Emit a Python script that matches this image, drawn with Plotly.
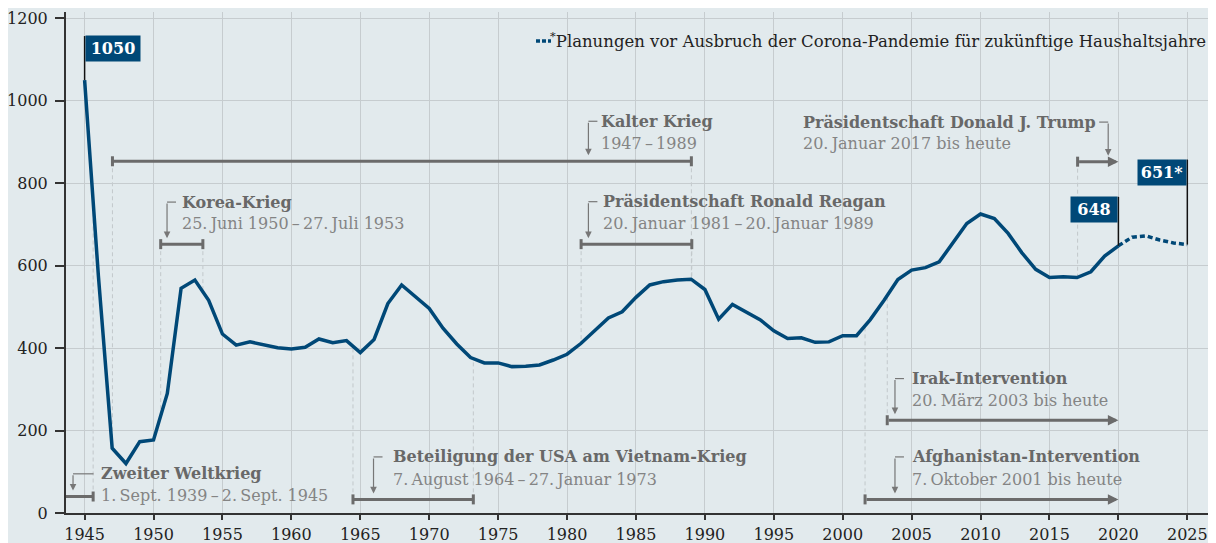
import numpy as np
import plotly.graph_objects as go

# ---------------- data ----------------
years = list(range(1945, 2021))
spending = [1050, 575, 157, 120, 173, 177, 290, 545, 565, 516,
            434, 407, 415, 409, 401, 398, 402, 422, 413, 418,
            389, 421, 508, 553, 524, 496, 448, 410, 377, 364,
            364, 355, 356, 359, 371, 385, 411, 441, 473, 488,
            523, 553, 561, 565, 567, 542, 470, 506, 488, 469,
            442, 423, 425, 414, 415, 430, 430, 469, 516, 566,
            589, 595, 609, 655, 702, 725, 714, 678, 631, 591,
            571, 573, 571, 585, 623, 648]
plan_years = [2020, 2021, 2022, 2023, 2024, 2025]
plan_spending = [648, 669, 672, 662, 655, 651]

x_ticks = list(range(1945, 2026, 5))
y_ticks = list(range(0, 1201, 200))

event_titles = ["Zweiter Weltkrieg", "Korea-Krieg", "Kalter Krieg",
                "Präsidentschaft Ronald Reagan",
                "Beteiligung der USA am Vietnam-Krieg",
                "Präsidentschaft Donald J. Trump",
                "Irak-Intervention", "Afghanistan-Intervention"]
event_dates = ["1.\u2009Sept. 1939\u2009–\u20092.\u2009Sept. 1945",
               "25.\u2009Juni 1950\u2009–\u200927.\u2009Juli 1953",
               "1947\u2009–\u20091989",
               "20.\u2009Januar 1981\u2009–\u200920.\u2009Januar 1989",
               "7.\u2009August 1964\u2009–\u200927.\u2009Januar 1973",
               "20.\u2009Januar 2017 bis heute",
               "20.\u2009März 2003 bis heute",
               "7.\u2009Oktober 2001 bis heute"]
event_start = [1939.67, 1950.52, 1947.02, 1981.02, 1964.47, 2017.04, 2003.23, 2001.62]
event_end = [1945.62, 1953.58, 1989.02, 1989.05, 1973.2, 2020.0, 2020.0, 2020.0]
event_ongoing = [False, False, False, False, False, True, True, True]

value_labels = ["1050", "648", "651*"]
value_label_years = [1945, 2020, 2025]
value_label_values = [1050, 648, 651]

# ---------------- layout / style ----------------
OFF = 8                      # page body margin of the html page
W, H = 1216 - OFF, 543 - OFF
ML, MR, MT, MB = 66 - OFF, 8, 12 - OFF, 30
PLOT_L_SCREEN = ML + OFF
PLOT_B_SCREEN = H - MB + OFF
XR = [1943.65, 2026.5]
YR = [0, 1215]
FONT = "DejaVu Serif"
BLUE = "#004877"
BG = "#e2eaed"
GRID = "#c6cccf"
SPAN = "#6b6b6b"
TITLE_C = "#686868"
DATE_C = "#848484"
DASH_C = "#c2c8cb"

PW, PH = W - ML - MR, H - MT - MB
ppu_y = PH / (YR[1] - YR[0])   # pixels per unit
ppu_x = PW / (XR[1] - XR[0])   # pixels per year

# per-event label layout: [title_x, title_y, date_y, corner_x, level]
ev_layout = [
    [1946.02, 95, 42, 1944.16, 40],
    [1951.95, 754, 702, 1950.98, 652],
    [1982.3, 950, 896, 1981.55, 853],
    [1982.45, 755, 702, 1981.55, 652],
    [1967.2, 136, 82, 1965.96, 33],
    [1997.0, 948, 896, 2019.26, 852],
    [2004.85, 326, 273, 2003.79, 225],
    [2004.85, 136, 82, 2003.79, 33],
]

all_years = years + plan_years[1:]
all_vals = spending + plan_spending[1:]

fig = go.Figure()
fig.add_trace(go.Scatter(x=years, y=spending, mode="lines",
                         line=dict(color=BLUE, width=3.5), hoverinfo="skip",
                         showlegend=False))
fig.add_trace(go.Scatter(x=plan_years, y=plan_spending, mode="lines",
                         line=dict(color=BLUE, width=3.5, dash="5px,3px"),
                         hoverinfo="skip", showlegend=False))

shapes = []
annotations = []
tick_h = 5 / ppu_y

for i, t in enumerate(event_titles):
    tx, ty, dy, cx, lvl = ev_layout[i]
    s, e = event_start[i], event_end[i]
    s_draw = max(s, XR[0])
    # dashed guide lines between span and curve
    for d in ([s, e] if not event_ongoing[i] else [s]):
        if d < XR[0]:
            continue
        cv = float(np.interp(d, all_years, all_vals))
        shapes.append(dict(type="line", xref="x", yref="y", x0=d, x1=d,
                           y0=lvl, y1=cv, layer="below",
                           line=dict(color=DASH_C, width=1, dash="4px,3px")))
    # span
    if event_ongoing[i]:
        annotations.append(dict(x=e, y=lvl, ax=s_draw, ay=lvl, axref="x", ayref="y",
                                xref="x", yref="y", text="", showarrow=True,
                                arrowhead=2, arrowsize=0.7, arrowwidth=3,
                                arrowcolor=SPAN, standoff=0, startstandoff=0))
    else:
        shapes.append(dict(type="line", xref="x", yref="y", x0=s_draw, x1=e,
                           y0=lvl, y1=lvl, line=dict(color=SPAN, width=3)))
        shapes.append(dict(type="line", xref="x", yref="y", x0=e, x1=e,
                           y0=lvl - tick_h, y1=lvl + tick_h,
                           line=dict(color=SPAN, width=3)))
    if s >= XR[0]:
        shapes.append(dict(type="line", xref="x", yref="y", x0=s, x1=s,
                           y0=lvl - tick_h, y1=lvl + tick_h,
                           line=dict(color=SPAN, width=3)))
    # elbow connector
    tip_y = lvl + 6 / ppu_y
    if i == 0:
        hx = cx + 20.5 / ppu_x
    elif i == 5:
        hx = cx - 9 / ppu_x
    else:
        hx = cx + 9 / ppu_x
    shapes.append(dict(type="line", xref="x", yref="y", x0=cx, x1=hx,
                       y0=ty, y1=ty, line=dict(color="#777777", width=1.2)))
    annotations.append(dict(x=cx, y=tip_y, ax=cx, ay=ty, axref="x", ayref="y",
                            xref="x", yref="y", text="", showarrow=True,
                            arrowhead=2, arrowsize=1.1, arrowwidth=1.2,
                            arrowcolor="#777777", standoff=0, startstandoff=0))
    # texts
    annotations.append(dict(x=tx, y=ty, xref="x", yref="y", text="<b>%s</b>" % t,
                            showarrow=False, xanchor="left", yanchor="middle",
                            font=dict(family=FONT, size=16, color=TITLE_C)))
    annotations.append(dict(x=tx, y=dy, xref="x", yref="y", text=event_dates[i],
                            showarrow=False, xanchor="left", yanchor="middle",
                            font=dict(family=FONT, size=16, color=DATE_C)))

# value labels
box_cfg = [  # [anchor, top_px_above_point, width]
    ["left", 44, 54],
    ["right", 49, 46],
    ["right", 85, 48],
]
for i, lab in enumerate(value_labels):
    xv, yv = value_label_years[i], value_label_values[i]
    anc, top, wbox = box_cfg[i]
    y_top = yv + top / ppu_y
    shapes.append(dict(type="line", xref="x", yref="y", x0=xv, x1=xv,
                       y0=yv, y1=y_top, line=dict(color="#111111", width=1.5)))
    annotations.append(dict(x=xv, y=yv + (top - 12.5) / ppu_y, xref="x", yref="y",
                            text="<b>%s</b>" % lab, showarrow=False,
                            xanchor=anc, yanchor="middle", width=wbox, height=25,
                            bgcolor=BLUE, borderpad=0,
                            font=dict(family=FONT, size=16, color="white")))

# legend note (screen-pixel placement)
legend_y = (PLOT_B_SCREEN - 40) / ppu_y
annotations.append(dict(x=1, y=legend_y, xref="paper", yref="y",
                        text="<sup>*</sup>Planungen vor Ausbruch der Corona-Pandemie für zukünftige Haushaltsjahre",
                        showarrow=False, xanchor="right", yanchor="middle",
                        font=dict(family=FONT, size=16.5, color="#222222")))
ly = (PLOT_B_SCREEN - 41) / ppu_y
shapes.append(dict(type="line", xref="paper", yref="y",
                   x0=(536 - PLOT_L_SCREEN) / PW, x1=(551 - PLOT_L_SCREEN) / PW,
                   y0=ly, y1=ly, line=dict(color=BLUE, width=3.5, dash="4px,2px")))

fig.update_layout(
    width=W, height=H,
    margin=dict(l=ML, r=MR, t=MT, b=MB, autoexpand=False),
    paper_bgcolor=BG, plot_bgcolor=BG,
    shapes=shapes, annotations=annotations,
    showlegend=False,
    font=dict(family=FONT, size=16, color="#222222"),
    xaxis=dict(range=XR, tickvals=x_ticks, showgrid=True, gridcolor=GRID, gridwidth=1,
               showline=True, linecolor="#333333", linewidth=2,
               ticks="outside", ticklen=5, tickcolor="#333333", tickwidth=1.5,
               ticklabelstandoff=1,
               zeroline=False, tickfont=dict(family=FONT, size=16, color="#222222")),
    yaxis=dict(range=YR, tickvals=y_ticks, showgrid=True, gridcolor=GRID, gridwidth=1,
               showline=True, linecolor="#333333", linewidth=2,
               ticks="outside", ticklen=9, tickcolor="#333333", tickwidth=1.5,
               ticklabelstandoff=4,
               zeroline=False, tickfont=dict(family=FONT, size=16, color="#222222")),
)

fig.write_html("out.html")
